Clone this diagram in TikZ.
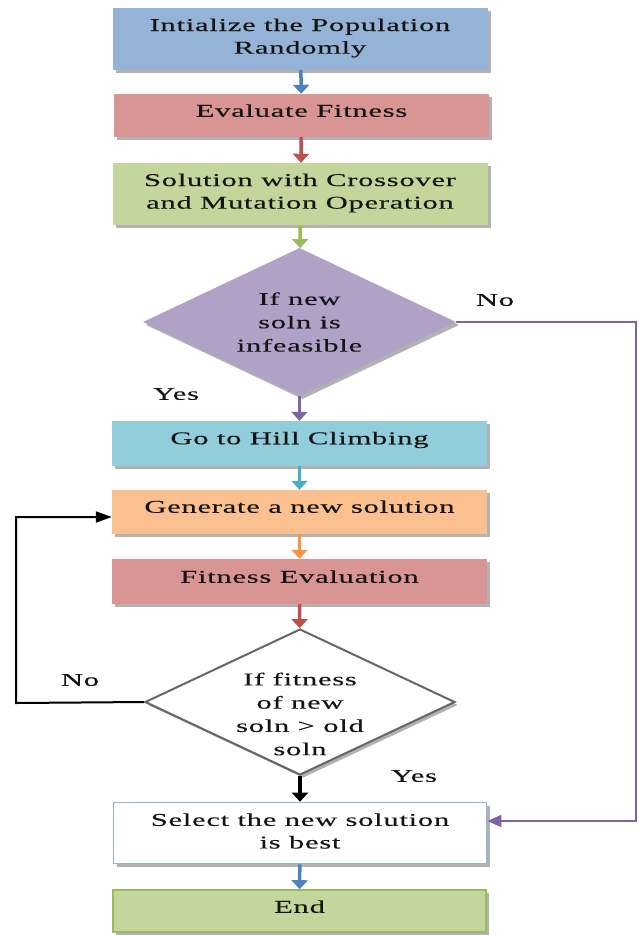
\documentclass[tikz,border=0pt]{standalone}
\usepackage{fontspec}
\setmainfont{Liberation Serif}[FakeStretch=1.7,LetterSpace=4,FakeBold=0.2]
\usetikzlibrary{arrows.meta,shapes.geometric,shadows}

\definecolor{bluefill}{HTML}{95B3D7}
\definecolor{blueline}{HTML}{4F81BD}
\definecolor{redfill}{HTML}{D99594}
\definecolor{redline}{HTML}{C0504D}
\definecolor{greenfill}{HTML}{C3D69B}
\definecolor{greenline}{HTML}{9BBB59}
\definecolor{purplefill}{HTML}{B2A1C7}
\definecolor{purpleline}{HTML}{8064A2}
\definecolor{tealfill}{HTML}{92CDDC}
\definecolor{tealline}{HTML}{4BACC6}
\definecolor{orangefill}{HTML}{FAC090}
\definecolor{orangeline}{HTML}{F79646}
\definecolor{txt}{HTML}{141414}

\tikzset{
  shade3/.style={drop shadow={shadow xshift=3pt,shadow yshift=-3pt,fill=black,opacity=0.3}},
  procbox/.style={rectangle,shade3,minimum width=375pt,inner sep=0pt},
  decision/.style={diamond,shade3,inner sep=0pt},
  words/.style={align=center,inner sep=0pt,text=txt,font=\fontsize{18}{22.6}\selectfont},
  oneline/.style={words,text height=12.5pt,text depth=4pt},
  dwords/.style={words,font=\fontsize{18}{23.3}\selectfont},
  flow/.style={line width=3.5pt,-{Triangle[width=16pt,length=9pt]}},
}

\begin{document}
\begin{tikzpicture}[x=1pt,y=-1pt]
\useasboundingbox[fill=white] (0,0) rectangle (638,935);

% boxes and decisions of the main column
\node[procbox,fill=bluefill,minimum height=62pt] (init) at (300.5,39) {};
\node[procbox,fill=redfill,minimum height=43pt] (eval) at (301.5,115.5) {};
\node[procbox,fill=greenfill,minimum height=62pt] (cross) at (300.5,194) {};
\node[decision,fill=purplefill,minimum width=313pt,minimum height=148pt] (feas) at (299.5,322) {};
\node[procbox,fill=tealfill,minimum height=45pt] (hill) at (299.5,443.5) {};
\node[procbox,fill=orangefill,minimum height=44pt] (gen) at (299.5,512) {};
\node[procbox,fill=redfill,minimum height=45pt] (fit) at (299.5,581.5) {};
\node[decision,fill=white,draw=gray!80!black,line width=2pt,minimum width=310pt,minimum height=146pt] (better) at (300,702) {};
\node[procbox,fill=white,draw=bluefill,line width=1.6pt,minimum width=373pt,minimum height=61pt] (select) at (300,833) {};
\node[procbox,fill=greenfill,draw=greenline,line width=1.6pt,minimum width=373pt,minimum height=42pt] (fin) at (299.5,911) {};

% texts of the steps
\node[words] (inittext) at (300,38) {Intialize the Population\\Randomly};
\node[oneline,yshift=3pt] (evaltext) at (eval) {Evaluate Fitness};
\node[words] (crosstext) at (300,193) {Solution with Crossover\\and Mutation Operation};
\node[dwords] (feastext) at (299.5,322) {If new\\soln is\\infeasible};
\node[oneline,yshift=3.5pt] (hilltext) at (hill) {Go to Hill Climbing};
\node[oneline,yshift=3.5pt] (gentext) at (gen) {Generate a new solution};
\node[oneline,yshift=3pt] (fittext) at (fit) {Fitness Evaluation};
\node[dwords] (bettertext) at (300,714) {If fitness\\of new\\soln > old\\soln};
\node[words] (selecttext) at (300,831) {Select the new solution\\is best};
\node[oneline,yshift=2.5pt] (fintext) at (fin) {End};

% straight flow arrows
\draw[flow,blueline] (init) -- (eval);
\draw[flow,redline] (eval) -- (cross);
\draw[flow,greenline] (cross) -- (feas);
\draw[flow,purpleline] (feas) -- (hill);
\draw[flow,tealline] (hill) -- (gen);
\draw[flow,orangeline] (gen) -- (fit);
\draw[flow,redline] (fit) -- (better);
\draw[flow,black] (better) -- (select);
\draw[flow,blueline] (select) -- (fin);

% branch connectors
\coordinate (rtop) at (636,322);
\coordinate (rbot) at (636,821);
\draw[purpleline,line width=1.6pt,-{Triangle[width=12pt,length=14pt]}]
  (feas.east) -- (rtop) -- (rbot) -- (select.east |- rbot);
\coordinate (ltop) at (16,517);
\coordinate (lbot) at (16,703);
\draw[black,line width=2pt,-{Triangle[width=11pt,length=16pt]}]
  (better.west) -- (lbot) -- (ltop) -- (gen.west |- ltop);

% branch labels
\node[words] (no1) at (495,300) {No};
\node[words] (yes1) at (176,394) {Yes};
\node[words] (no2) at (80,680) {No};
\node[words] (yes2) at (414,776) {Yes};
\end{tikzpicture}
\end{document}
